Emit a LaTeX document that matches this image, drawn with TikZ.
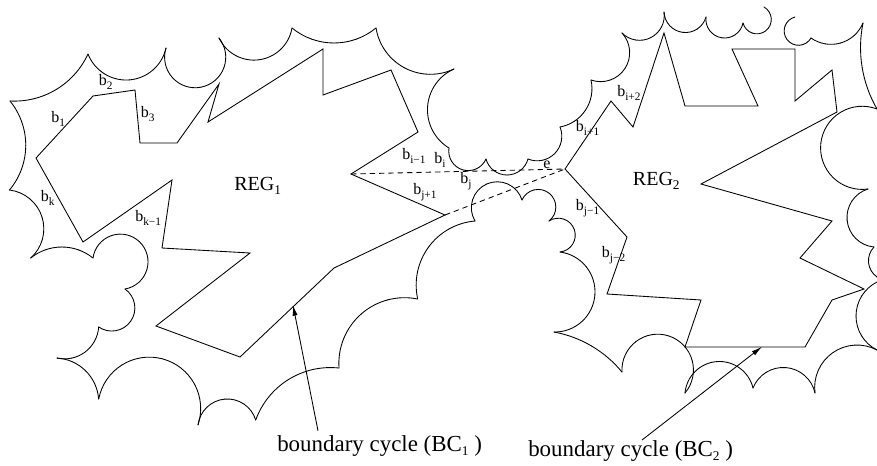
\documentclass[tikz,border=0pt]{standalone}
\usepackage{fontspec}
\setmainfont{Liberation Serif}
\usetikzlibrary{arrows.meta}
\newcommand\subtxt[2][8.5pt]{\raisebox{-3pt}{\fontsize{#1}{#1}\selectfont #2}}
\newcommand\carc[5]{%
  \pgfmathsetmacro\arcDx{(#3)-(#1)}%
  \pgfmathsetmacro\arcDy{(#4)-(#2)}%
  \pgfmathsetmacro\arcLen{veclen(\arcDx,\arcDy)}%
  \pgfmathsetmacro\arcNx{\arcDy/\arcLen}%
  \pgfmathsetmacro\arcNy{-1*(\arcDx)/\arcLen}%
  \pgfmathsetmacro\arcHalf{\arcLen/2}%
  \pgfmathsetmacro\arcRs{(\arcHalf*\arcHalf+(#5)*(#5))/(2*(#5))}%
  \pgfmathsetmacro\arcCx{((#1)+(#3))/2+((#5)-\arcRs)*\arcNx}%
  \pgfmathsetmacro\arcCy{((#2)+(#4))/2+((#5)-\arcRs)*\arcNy}%
  \pgfmathsetmacro\arcR{abs(\arcRs)}%
  \pgfmathsetmacro\arcStart{atan2((#2)-\arcCy,(#1)-\arcCx)}%
  \pgfmathsetmacro\arcStep{atan((#5)/\arcHalf)}%
  \pgfmathsetmacro\arcK{4/3*tan(\arcStep/4)*\arcR}%
  \foreach \ii in {0,1,2,3}{%
    \pgfmathsetmacro\angA{\arcStart+\ii*\arcStep}%
    \pgfmathsetmacro\angB{\angA+\arcStep}%
    \pgfmathsetmacro\pAx{\arcCx+\arcR*cos(\angA)}%
    \pgfmathsetmacro\pAy{\arcCy+\arcR*sin(\angA)}%
    \pgfmathsetmacro\pBx{\arcCx+\arcR*cos(\angB)}%
    \pgfmathsetmacro\pBy{\arcCy+\arcR*sin(\angB)}%
    \pgfmathsetmacro\qAx{\pAx-\arcK*sin(\angA)}%
    \pgfmathsetmacro\qAy{\pAy+\arcK*cos(\angA)}%
    \pgfmathsetmacro\qBx{\pBx+\arcK*sin(\angB)}%
    \pgfmathsetmacro\qBy{\pBy-\arcK*cos(\angB)}%
    \draw[outline] (\pAx,\pAy) .. controls (\qAx,\qAy) and (\qBx,\qBy) .. (\pBx,\pBy);
  }%
}
\tikzset{
  outline/.style={line width=0.65pt,line cap=round,line join=miter,black},
  dashline/.style={line width=0.65pt,dash pattern=on 4pt off 3pt,black},
  pointer/.style={line width=0.65pt,black,-{Latex[length=8pt,width=3.8pt]}},
  lab/.style={anchor=base west,inner sep=0pt,font=\fontsize{12pt}{12pt}\selectfont},
  reglab/.style={anchor=base west,inner sep=0pt,font=\fontsize{15pt}{15pt}\selectfont},
  cyclab/.style={anchor=base west,inner sep=0pt,font=\fontsize{17.2pt}{17.2pt}\selectfont}
}
\begin{document}
\begin{tikzpicture}[x=0.75pt,y=-0.75pt]
\useasboundingbox (0,0) rectangle (877,465);
% boundary cycles
\draw[outline] (36,158) -- (93,96) -- (135,90) -- (140,143) -- (177,143) -- (219,84) -- (208,122) -- (323,49) -- (323,95) -- (391,70) -- (418,132) -- (351,174) -- (445,215) -- (334,268) -- (240,357) -- (156,326) -- (250,253) -- (162,248) -- (172,180) -- (83,242) -- cycle;
\draw[outline] (565,169) -- (611,101) -- (633,127) -- (664,33) -- (685,106) -- (758,106) -- (732,49) -- (795,49) -- (795,101) -- (832,70) -- (837,112) -- (701,184) -- (832,221) -- (800,258) -- (864,289) -- (832,300) -- (805,347) -- (685,347) -- (701,300) -- (607,294) -- (627,237) -- cycle;
% dashed links
\coordinate (vL1) at (351,174);
\coordinate (vL2) at (445,215);
\coordinate (vR) at (565,169);
\draw[dashline] (vL1) -- (vR);
\draw[dashline] (vL2) -- (vR);
% scalloped outer boundary
\foreach \xa/\ya/\xb/\yb/\sg in {
  9.5/190/10/101/-16, 10/101/88/54/-14, 88/54/166/48/-29, 166/48/219/38/-45,
  219/38/292/28/-27, 292/28/376/28/-15, 376/28/454/69/-22, 454/69/449/148/-24,
  449/148/486/159/-17, 486/159/528/159/-16, 528/159/560/127/-15, 560/127/591/80/-12,
  591/80/622/33/-22, 622/33/664/12/-17, 664/12/706/17/-18, 706/17/743/23/-18,
  743/23/764/7/-20,
  795/17/811/38/-20, 811/38/863/23/-13, 863/23/877/109/-8, 877/109/868/189/-52,
  868/189/874/247/-24, 874/247/877/277/-7, 877/282/877/350/-21, 877/350/815/393/-23,
  815/393/753/388/-23, 753/388/685/393/-29, 685/393/622/372/-49, 622/372/554/332/-7,
  554/332/560/252/-38, 560/252/549/221/-21, 549/221/522/200/-22, 522/200/475/221/-29,
  475/221/417.7/299/-22, 417.7/299/339/368/-26, 339/368/255.7/420/-17,
  255.7/420/198/425/-23.5, 198/425/98.7/399/-55, 98.7/399/57/358/-11, 57/358/98.7/327/-12,
  98.7/327/125/289/-23, 125/289/93/258/-44, 93/258/30.7/258/-11, 30.7/258/9.5/190/-23}{
  \carc{\xa}{\ya}{\xb}{\yb}{\sg}
}
% labels
\node[lab] (b1) at (51,122) {b\subtxt{1}};
\node[lab] (b2) at (98.5,85) {b\subtxt{2}};
\node[lab] (b3) at (140.5,117) {b\subtxt{3}};
\node[lab] (bk) at (40.7,201) {b\subtxt{k}};
\node[lab] (bk1) at (135,221.7) {b\subtxt{k−1}};
\node[lab] (bim1) at (402,159) {b\subtxt{i−1}};
\node[lab] (bi) at (434,163) {b\subtxt{i}};
\node[lab] (bj) at (460,183) {b\subtxt{j}};
\node[lab] (bjp1) at (413,194) {b\subtxt{j+1}};
\node[lab] (e) at (543,168) {e};
\node[lab] (bip1) at (575.7,131.7) {b\subtxt{i+1}};
\node[lab] (bip2) at (617,96) {b\subtxt{i+2}};
\node[lab] (bjm1) at (575.7,210.7) {b\subtxt{j−1}};
\node[lab] (bjm2) at (601.7,257.7) {b\subtxt{j−2}};
\node[reglab] (reg1) at (234,190.7) {REG\subtxt[10pt]{1}};
\node[reglab] (reg2) at (632.7,185) {REG\subtxt[10pt]{2}};
\node[cyclab] (bc1) at (277,451.7) {boundary cycle (BC\subtxt[10pt]{1} )};
\node[cyclab] (bc2) at (528,456.7) {boundary cycle (BC\subtxt[10pt]{2} )};
% pointers
\coordinate (p1s) at (318,430.7);
\coordinate (p1e) at (293,305);
\coordinate (p2s) at (642,440);
\coordinate (p2e) at (762,346.7);
\draw[pointer] (p1s) -- (p1e);
\draw[pointer] (p2s) -- (p2e);
\end{tikzpicture}
\end{document}
